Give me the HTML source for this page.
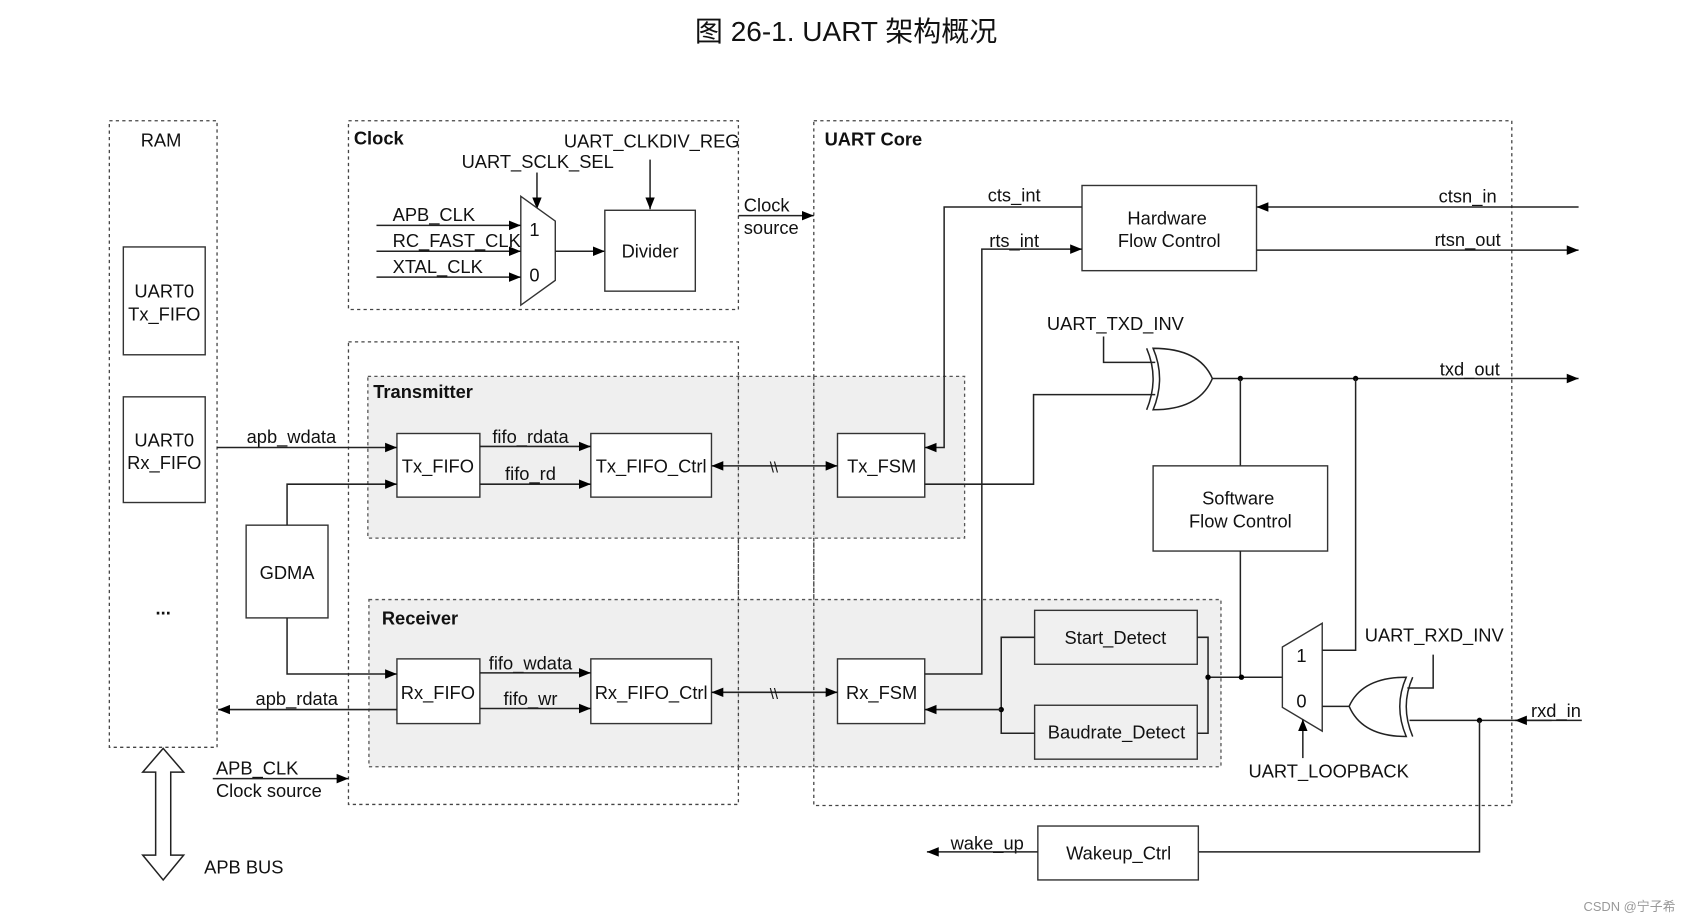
<!DOCTYPE html>
<html><head><meta charset="utf-8"><style>
html,body{margin:0;padding:0;background:#fff;}
svg{display:block}
text{font-family:"Liberation Sans","Noto Sans CJK SC",sans-serif;font-size:17px;fill:#111}
.b{font-weight:bold}
.box{fill:#fff;stroke:#333;stroke-width:1.3}
.gbox{fill:#f0f0f0;stroke:#333;stroke-width:1.3}
.dash{fill:none;stroke:#444;stroke-width:1.2;stroke-dasharray:3,3}
.shade{fill:#ececec;stroke:#555;stroke-width:1.2;stroke-dasharray:3,3}
.l{fill:none;stroke:#222;stroke-width:1.4}
</style></head><body>
<svg width="1689" height="922" viewBox="-0.5 0 1568 855" preserveAspectRatio="none" xmlns="http://www.w3.org/2000/svg">
<defs>
<marker id="a" viewBox="0 0 10 10" refX="10" refY="5" markerWidth="11" markerHeight="11" markerUnits="userSpaceOnUse" orient="auto"><path d="M0,1 L10,5 L0,9 z" fill="#000"/></marker>
</defs>
<text x="785" y="38" text-anchor="middle" style="font-size:26px">图 26-1. UART 架构概况</text>

<rect class="dash" x="101" y="112" width="100" height="581"/>
<rect class="dash" x="323" y="112" width="362" height="175"/>
<rect class="dash" x="323" y="317" width="362" height="429"/>
<rect class="dash" x="755" y="112" width="648" height="635"/>
<rect class="shade" x="341" y="349" width="554" height="150" style="fill-opacity:0.85"/>
<rect class="shade" x="342" y="556" width="791" height="155" style="fill-opacity:0.85"/>
<line x1="685" y1="349" x2="685" y2="711" class="dash"/>
<line x1="755" y1="349" x2="755" y2="711" class="dash"/>

<text x="149" y="136" text-anchor="middle">RAM</text>
<rect class="box" x="114" y="229" width="76" height="100"/>
<text x="152" y="276" text-anchor="middle">UART0</text><text x="152" y="297" text-anchor="middle">Tx_FIFO</text>
<rect class="box" x="114" y="368" width="76" height="98"/>
<text x="152" y="414" text-anchor="middle">UART0</text><text x="152" y="435" text-anchor="middle">Rx_FIFO</text>
<text x="151" y="570" text-anchor="middle" class="b">...</text>

<text x="328" y="134" class="b">Clock</text>
<text x="523" y="137">UART_CLKDIV_REG</text>
<text x="428" y="156">UART_SCLK_SEL</text>
<line class="l" x1="603" y1="148" x2="603" y2="194" marker-end="url(#a)"/>
<line class="l" x1="498" y1="160" x2="498" y2="194" marker-end="url(#a)"/>
<polygon points="483,182 515,205 515,260 483,283" class="box"/>
<text x="491" y="219">1</text><text x="491" y="261">0</text>
<text x="364" y="205">APB_CLK</text><text x="364" y="229">RC_FAST_CLK</text><text x="364" y="253">XTAL_CLK</text>
<line class="l" x1="349" y1="209" x2="483" y2="209" marker-end="url(#a)"/>
<line class="l" x1="349" y1="233" x2="483" y2="233" marker-end="url(#a)"/>
<line class="l" x1="349" y1="257" x2="483" y2="257" marker-end="url(#a)"/>
<line class="l" x1="515" y1="233" x2="561" y2="233" marker-end="url(#a)"/>
<rect class="box" x="561" y="195" width="84" height="75"/>
<text x="603" y="239" text-anchor="middle">Divider</text>
<text x="690" y="196">Clock</text><text x="690" y="217">source</text>
<line class="l" x1="685" y1="200" x2="755" y2="200" marker-end="url(#a)"/>

<text x="765" y="135" class="b">UART Core</text>
<text x="346" y="369" class="b">Transmitter</text>
<text x="354" y="579" class="b">Receiver</text>

<rect class="box" x="368" y="402" width="77" height="59"/><text x="406" y="438" text-anchor="middle">Tx_FIFO</text>
<rect class="box" x="548" y="402" width="112" height="59"/><text x="604" y="438" text-anchor="middle">Tx_FIFO_Ctrl</text>
<rect class="box" x="777" y="402" width="81" height="59"/><text x="818" y="438" text-anchor="middle">Tx_FSM</text>
<rect class="box" x="368" y="611" width="77" height="60"/><text x="406" y="648" text-anchor="middle">Rx_FIFO</text>
<rect class="box" x="548" y="611" width="112" height="60"/><text x="604" y="648" text-anchor="middle">Rx_FIFO_Ctrl</text>
<rect class="box" x="777" y="611" width="81" height="60"/><text x="818" y="648" text-anchor="middle">Rx_FSM</text>
<rect class="box" x="228" y="487" width="76" height="86"/><text x="266" y="537" text-anchor="middle">GDMA</text>

<text x="270" y="411" text-anchor="middle">apb_wdata</text>
<line class="l" x1="201" y1="415" x2="368" y2="415" marker-end="url(#a)"/>
<text x="492" y="411" text-anchor="middle">fifo_rdata</text>
<line class="l" x1="445" y1="414" x2="548" y2="414" marker-end="url(#a)"/>
<text x="492" y="445" text-anchor="middle">fifo_rd</text>
<line class="l" x1="445" y1="449" x2="548" y2="449" marker-end="url(#a)"/>
<polyline class="l" points="266,487 266,449 368,449" marker-end="url(#a)"/>
<polyline class="l" points="266,573 266,625 368,625" marker-end="url(#a)"/>
<text x="492" y="621" text-anchor="middle">fifo_wdata</text>
<line class="l" x1="445" y1="624" x2="548" y2="624" marker-end="url(#a)"/>
<text x="492" y="654" text-anchor="middle">fifo_wr</text>
<line class="l" x1="445" y1="657" x2="548" y2="657" marker-end="url(#a)"/>
<text x="275" y="654" text-anchor="middle">apb_rdata</text>
<line class="l" x1="368" y1="658" x2="202" y2="658" marker-end="url(#a)"/>

<line class="l" x1="718" y1="432" x2="660" y2="432" marker-end="url(#a)"/>
<line class="l" x1="718" y1="432" x2="777" y2="432" marker-end="url(#a)"/>
<text x="718" y="438" text-anchor="middle" style="font-size:14px">\\</text>
<line class="l" x1="718" y1="642" x2="660" y2="642" marker-end="url(#a)"/>
<line class="l" x1="718" y1="642" x2="777" y2="642" marker-end="url(#a)"/>
<text x="718" y="648" text-anchor="middle" style="font-size:14px">\\</text>

<rect class="box" x="1004" y="172" width="162" height="79"/>
<text x="1083" y="208" text-anchor="middle">Hardware</text><text x="1085" y="229" text-anchor="middle">Flow Control</text>
<text x="941" y="187" text-anchor="middle">cts_int</text>
<polyline class="l" points="1004,192 876,192 876,415 858,415" marker-end="url(#a)"/>
<text x="941" y="229" text-anchor="middle">rts_int</text>
<polyline class="l" points="858,625 911,625 911,231 1004,231" marker-end="url(#a)"/>
<text x="1362" y="188" text-anchor="middle">ctsn_in</text>
<line class="l" x1="1465" y1="192" x2="1166" y2="192" marker-end="url(#a)"/>
<text x="1362" y="228" text-anchor="middle">rtsn_out</text>
<line class="l" x1="1166" y1="232" x2="1465" y2="232" marker-end="url(#a)"/>

<text x="1035" y="306" text-anchor="middle">UART_TXD_INV</text>
<polyline class="l" points="1024,312 1024,336 1072,336"/>
<polyline class="l" points="858,449 959,449 959,366 1072,366"/>
<path class="l" d="M1070,323 Q1113,323 1125,351 Q1113,380 1070,380 Q1082,351 1070,323 Z" style="fill:#fff"/>
<path class="l" d="M1064,323 Q1076,351 1064,380"/>
<line class="l" x1="1125" y1="351" x2="1465" y2="351" marker-end="url(#a)"/>
<text x="1364" y="348" text-anchor="middle">txd_out</text>
<circle cx="1151" cy="351" r="2.5" fill="#000"/><circle cx="1258" cy="351" r="2.5" fill="#000"/>
<line class="l" x1="1151" y1="351" x2="1151" y2="432"/>
<rect class="box" x="1070" y="432" width="162" height="79"/>
<text x="1149" y="468" text-anchor="middle">Software</text><text x="1151" y="489" text-anchor="middle">Flow Control</text>
<line class="l" x1="1151" y1="511" x2="1151" y2="628"/>

<rect class="gbox" x="960" y="566" width="151" height="50"/><text x="1035" y="597" text-anchor="middle">Start_Detect</text>
<rect class="gbox" x="960" y="654" width="151" height="50"/><text x="1036" y="685" text-anchor="middle">Baudrate_Detect</text>
<polyline class="l" points="960,591 929,591 929,680 960,680"/>
<circle cx="929" cy="658" r="2.5" fill="#000"/>
<line class="l" x1="929" y1="658" x2="858" y2="658" marker-end="url(#a)"/>
<polyline class="l" points="1111,591 1121,591 1121,680 1111,680"/>
<line class="l" x1="1121" y1="628" x2="1190" y2="628"/>
<circle cx="1121" cy="628" r="2.5" fill="#000"/><circle cx="1152" cy="628" r="2.5" fill="#000"/>

<polygon points="1190,600 1227,578 1227,678 1190,656" class="box"/>
<text x="1203" y="614">1</text><text x="1203" y="656">0</text>
<polyline class="l" points="1227,603 1258,603 1258,351"/>
<text x="1331" y="595" text-anchor="middle">UART_RXD_INV</text>
<polyline class="l" points="1330,607 1330,638 1306,638"/>
<path class="l" d="M1305,628 Q1264,628 1252,655 Q1264,683 1305,683 Q1293,655 1305,628 Z" style="fill:#fff"/>
<path class="l" d="M1311,628 Q1299,655 1311,683"/>
<line class="l" x1="1227" y1="655" x2="1252" y2="655"/>
<line class="l" x1="1308" y1="668" x2="1468" y2="668"/>
<line class="l" x1="1440" y1="668" x2="1406" y2="668" marker-end="url(#a)"/>
<text x="1444" y="665" text-anchor="middle">rxd_in</text>
<circle cx="1373" cy="668" r="2.5" fill="#000"/>
<polyline class="l" points="1373,668 1373,790 1112,790"/>
<text x="1233" y="721" text-anchor="middle">UART_LOOPBACK</text>
<line class="l" x1="1209" y1="703" x2="1209" y2="667" marker-end="url(#a)"/>

<rect class="box" x="963" y="766" width="149" height="50"/><text x="1038" y="797" text-anchor="middle">Wakeup_Ctrl</text>
<text x="916" y="788" text-anchor="middle">wake_up</text>
<line class="l" x1="963" y1="790" x2="860" y2="790" marker-end="url(#a)"/>

<path class="l" d="M151,694 L132,716 L144,716 L144,793 L132,793 L151,816 L170,793 L158,793 L158,716 L170,716 Z" style="fill:#fff"/>
<text x="189" y="810">APB BUS</text>
<text x="200" y="718">APB_CLK</text><text x="200" y="739">Clock source</text>
<line class="l" x1="197" y1="722" x2="323" y2="722" marker-end="url(#a)"/>

<text x="1555" y="845" text-anchor="end" style="font-size:12px;fill:#999">CSDN @宁子希</text>
</svg>
</body></html>
